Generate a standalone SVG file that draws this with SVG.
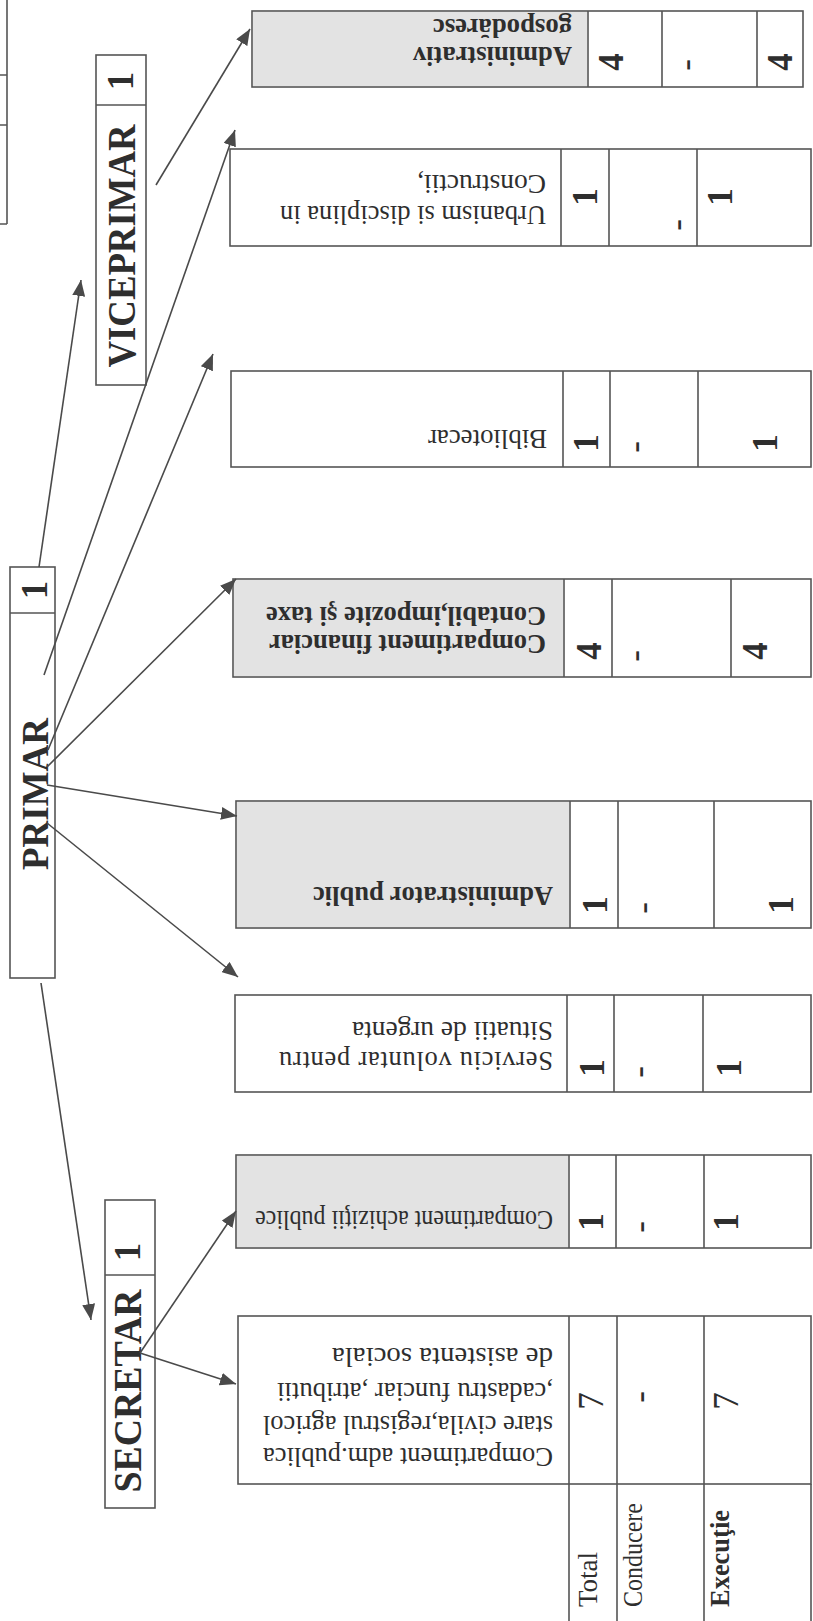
<svg xmlns="http://www.w3.org/2000/svg" width="813" height="1621" viewBox="0 0 813 1621">
<defs>
<style>
.bx{fill:#fff;stroke:#555;stroke-width:1.6}
.gr{fill:#e3e3e3;stroke:none}
.ln{stroke:#555;stroke-width:1.6;fill:none}
.t{font-family:"Liberation Serif","Times New Roman",serif;fill:#2e2e2e}
.b{font-weight:bold}
.body{font-size:26.5px}
.hd{font-size:27px}
.num{font-size:35px;text-anchor:middle}
.nm{font-size:40px;font-weight:bold;text-anchor:middle}
.cn{stroke:#4a4a4a;stroke-width:1.6;fill:none;marker-end:url(#ah)}
</style>
<marker id="ah" markerUnits="userSpaceOnUse" markerWidth="17" markerHeight="13" refX="16" refY="6.5" orient="auto">
<path d="M0,0 L16,6.5 L0,13 z" fill="#4a4a4a"/>
</marker>
</defs>
<rect width="813" height="1621" fill="#fff"/>

<g id="partial-box-topleft">
<path class="ln" d="M7,0 V224 M0,75 H7 M0,125 H7 M0,224 H7"/>
</g>

<g id="primar">
<rect class="bx" x="10" y="567" width="45" height="411"/>
<line class="ln" x1="10" y1="613" x2="55" y2="613"/>
<text class="t nm" transform="translate(47 590) rotate(-90)" style="font-size:37px">1</text>
<text class="t nm" transform="translate(48 794) rotate(-90)" style="font-size:37px" textLength="152" lengthAdjust="spacingAndGlyphs">PRIMAR</text>
</g>

<g id="viceprimar">
<rect class="bx" x="96" y="55" width="50" height="330"/>
<line class="ln" x1="96" y1="105" x2="146" y2="105"/>
<text class="t nm" transform="translate(133 81) rotate(-90)" style="font-size:37px">1</text>
<text class="t nm" transform="translate(135 246) rotate(-90)" textLength="243" lengthAdjust="spacingAndGlyphs">VICEPRIMAR</text>
</g>

<g id="secretar">
<rect class="bx" x="105" y="1200" width="50" height="308"/>
<line class="ln" x1="105" y1="1275" x2="155" y2="1275"/>
<text class="t nm" transform="translate(140 1252) rotate(-90)" style="font-size:37px">1</text>
<text class="t nm" transform="translate(141 1391) rotate(-90)" textLength="203" lengthAdjust="spacingAndGlyphs">SECRETAR</text>
</g>

<g id="administrativ-gospodaresc">
<rect class="bx" x="252" y="11" width="551" height="76"/>
<rect class="gr" x="253" y="12" width="334" height="74"/>
<path class="ln" d="M588,11 V87 M662,11 V87 M757,11 V87"/>
<text class="t b body" transform="translate(572 47) rotate(180)" textLength="159" lengthAdjust="spacingAndGlyphs">Administrativ</text>
<text class="t b body" transform="translate(572 19) rotate(180)" textLength="139" lengthAdjust="spacingAndGlyphs">gospodăresc</text>
<text class="t b num" transform="translate(623 62) rotate(-90)">4</text>
<text class="t num" transform="translate(697 65) rotate(-90)">-</text>
<text class="t b num" transform="translate(792 62) rotate(-90)">4</text>
</g>

<g id="urbanism">
<rect class="bx" x="230" y="149" width="581" height="97"/>
<path class="ln" d="M561,149 V246 M609,149 V246 M697,149 V246"/>
<text class="t body" transform="translate(546 206) rotate(180)" textLength="266" lengthAdjust="spacing">Urbanism si disciplina in</text>
<text class="t body" transform="translate(546 175) rotate(180)" textLength="129" lengthAdjust="spacingAndGlyphs">Constructii,</text>
<text class="t b num" transform="translate(597 197) rotate(-90)">1</text>
<text class="t num" transform="translate(688 225) rotate(-90)">-</text>
<text class="t b num" transform="translate(732 197) rotate(-90)">1</text>
</g>

<g id="bibliotecar">
<rect class="bx" x="231" y="371" width="580" height="96"/>
<path class="ln" d="M563,371 V467 M610,371 V467 M698,371 V467"/>
<text class="t body" transform="translate(547 430) rotate(180)" textLength="119" lengthAdjust="spacingAndGlyphs">Bibliotecar</text>
<text class="t b num" transform="translate(598 443) rotate(-90)">1</text>
<text class="t num" transform="translate(646 447) rotate(-90)">-</text>
<text class="t b num" transform="translate(777 443) rotate(-90)">1</text>
</g>

<g id="compartiment-financiar">
<rect class="bx" x="233" y="579" width="578" height="98"/>
<rect class="gr" x="234" y="580" width="329" height="96"/>
<path class="ln" d="M564,579 V677 M612,579 V677 M731,579 V677"/>
<text class="t b body" transform="translate(546 635) rotate(180)" textLength="277" lengthAdjust="spacingAndGlyphs">Compartiment financiar</text>
<text class="t b body" transform="translate(546 607) rotate(180)" textLength="280" lengthAdjust="spacingAndGlyphs">Contabil,impozite şi taxe</text>
<text class="t b num" transform="translate(601 651) rotate(-90)">4</text>
<text class="t num" transform="translate(646 656) rotate(-90)">-</text>
<text class="t b num" transform="translate(767 651) rotate(-90)">4</text>
</g>

<g id="administrator-public">
<rect class="bx" x="236" y="801" width="575" height="127"/>
<rect class="gr" x="237" y="802" width="332" height="125"/>
<path class="ln" d="M570,801 V928 M618,801 V928 M714,801 V928"/>
<text class="t b body" transform="translate(553 887) rotate(180)" textLength="240" lengthAdjust="spacingAndGlyphs">Administrator public</text>
<text class="t b num" transform="translate(607 905) rotate(-90)">1</text>
<text class="t num" transform="translate(654 908) rotate(-90)">-</text>
<text class="t b num" transform="translate(793 905) rotate(-90)">1</text>
</g>

<g id="serviciu-voluntar">
<rect class="bx" x="235" y="995" width="576" height="97"/>
<path class="ln" d="M567,995 V1092 M614,995 V1092 M703,995 V1092"/>
<text class="t body" transform="translate(553 1052) rotate(180)" textLength="274" lengthAdjust="spacing">Serviciu voluntar pentru</text>
<text class="t body" transform="translate(553 1022) rotate(180)" textLength="201" lengthAdjust="spacingAndGlyphs">Situatii de urgenta</text>
<text class="t b num" transform="translate(604 1068) rotate(-90)">1</text>
<text class="t num" transform="translate(650 1072) rotate(-90)">-</text>
<text class="t b num" transform="translate(741 1068) rotate(-90)">1</text>
</g>

<g id="compartiment-achizitii">
<rect class="bx" x="236" y="1155" width="575" height="93"/>
<rect class="gr" x="237" y="1156" width="331" height="91"/>
<path class="ln" d="M569,1155 V1248 M616,1155 V1248 M704,1155 V1248"/>
<text class="t body" transform="translate(553 1211) rotate(180)" textLength="298" lengthAdjust="spacingAndGlyphs">Compartiment achiziţii publice</text>
<text class="t b num" transform="translate(603 1222) rotate(-90)">1</text>
<text class="t num" transform="translate(651 1227) rotate(-90)">-</text>
<text class="t b num" transform="translate(738 1222) rotate(-90)">1</text>
</g>

<g id="compartiment-adm-publica">
<rect class="bx" x="238" y="1316" width="573" height="168"/>
<path class="ln" d="M569,1316 V1484 M617,1316 V1484 M704,1316 V1484"/>
<text class="t body" transform="translate(553 1448) rotate(180)" textLength="290" lengthAdjust="spacingAndGlyphs">Compartiment adm.publica</text>
<text class="t body" transform="translate(553 1416) rotate(180)" textLength="290" lengthAdjust="spacingAndGlyphs">stare civila,registrul agricol</text>
<text class="t body" transform="translate(553 1383) rotate(180)" textLength="276" lengthAdjust="spacingAndGlyphs">,cadastru funciar ,atributii</text>
<text class="t body" transform="translate(553 1348) rotate(180)" textLength="221" lengthAdjust="spacingAndGlyphs">de asistenta sociala</text>
<text class="t num" transform="translate(603 1401) rotate(-90)">7</text>
<text class="t num" transform="translate(651 1397) rotate(-90)">-</text>
<text class="t num" transform="translate(738 1401) rotate(-90)">7</text>
</g>

<g id="header-row">
<path class="ln" d="M569,1484 V1621 M617,1484 V1621 M704,1484 V1621 M811,1484 V1621"/>
<text class="t hd" transform="translate(597 1607) rotate(-90)" textLength="55" lengthAdjust="spacingAndGlyphs">Total</text>
<text class="t hd" transform="translate(642 1607) rotate(-90)" textLength="104" lengthAdjust="spacingAndGlyphs">Conducere</text>
<text class="t hd b" transform="translate(729 1607) rotate(-90)" textLength="97" lengthAdjust="spacingAndGlyphs">Execuţie</text>
</g>

<g id="connectors">
<line class="cn" x1="39" y1="567" x2="81" y2="280"/>
<line class="cn" x1="44" y1="675" x2="235" y2="130"/>
<line class="cn" x1="48" y1="750" x2="213" y2="354"/>
<line class="cn" x1="47" y1="767" x2="236" y2="579"/>
<line class="cn" x1="47" y1="785" x2="237" y2="816"/>
<line class="cn" x1="47" y1="823" x2="238" y2="977"/>
<line class="cn" x1="41" y1="983" x2="91" y2="1320"/>
<line class="cn" x1="156" y1="185" x2="250" y2="29"/>
<line class="cn" x1="140" y1="1353" x2="236" y2="1211"/>
<line class="cn" x1="140" y1="1353" x2="236" y2="1384"/>
</g>
</svg>
